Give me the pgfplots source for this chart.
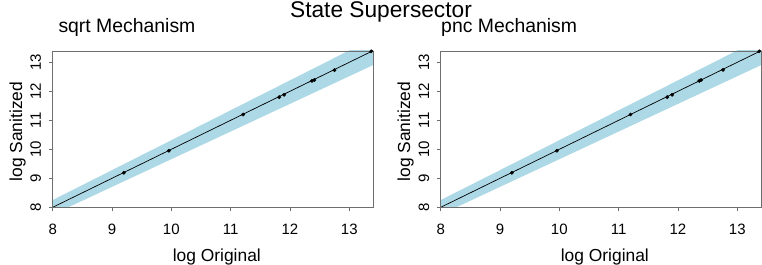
\documentclass[border=0pt]{standalone}
\usepackage{fontspec}
\setmainfont{Liberation Sans}
\usepackage{pgfplots}
\pgfplotsset{compat=1.18}
\definecolor{band}{RGB}{173,216,230}
\definecolor{frame}{RGB}{110,110,110}
\pgfplotsset{
  myax/.style={
    scale only axis, width=320.3bp, height=156.3bp,
    anchor=south west,
    xmin=8, xmax=13.4, ymin=8, ymax=13.39,
    xtick={8,9,10,11,12,13}, ytick={8,9,10,11,12,13},
    tick align=outside, major tick length=4bp,
    axis line style={draw=frame, line width=0.8bp},
    every tick/.style={draw=frame, line width=0.8bp},
    tick pos=left,
    axis on top,
    /pgf/number format/assume math mode=true,
    ticklabel style={font=\fontsize{15bp}{17bp}\selectfont},
    xticklabel style={yshift=-22.7bp, anchor=base, inner sep=0pt},
    yticklabel style={xshift=-7.7bp, rotate=90, anchor=base, inner sep=0pt},
    label style={font=\fontsize{17.4bp}{20bp}\selectfont},
    xlabel={log Original},
    ylabel={log Sanitized},
    xlabel style={at={(axis description cs:0.5125,-0.348)}, anchor=base, inner sep=0pt},
    ylabel style={at={(axis description cs:-0.0958,0.484)}, anchor=base, rotate=0, inner sep=0pt},
    title style={font=\fontsize{19.4bp}{22bp}\selectfont, anchor=base west, inner sep=0pt},
  },
}
\begin{document}
\begin{tikzpicture}
\path[use as bounding box] (0,0) rectangle (762bp,265bp);
\node[anchor=base, inner sep=0pt, font=\fontsize{22.7bp}{26bp}\selectfont] at (381bp,247bp) {State Supersector};
\begin{axis}[myax, at={(52.7bp,57.7bp)},
  title={sqrt Mechanism}, title style={at={(axis description cs:0.0175,1.0813)}}]
\addplot[draw=none, fill=band] coordinates {(7.5,7.734) (14,14.442) (14,13.474) (7.5,7.273)} -- cycle;
\addplot[black, line width=0.7bp] coordinates {(7.5,7.5) (14,14)};
\addplot[only marks, mark=*, mark size=1.7bp, black] coordinates {
(9.20,9.19) (9.96,9.95) (11.21,11.20) (11.82,11.80) (11.90,11.88)
(12.37,12.36) (12.41,12.39) (12.75,12.73) (13.37,13.38)};
\end{axis}
\begin{axis}[myax, at={(440.7bp,57.7bp)},
  title={pnc Mechanism}, title style={at={(axis description cs:0.001,1.0813)}}]
\addplot[draw=none, fill=band] coordinates {(7.5,7.734) (14,14.442) (14,13.474) (7.5,7.273)} -- cycle;
\addplot[black, line width=0.7bp] coordinates {(7.5,7.5) (14,14)};
\addplot[only marks, mark=*, mark size=1.7bp, black] coordinates {
(9.20,9.19) (9.96,9.95) (11.20,11.20) (11.82,11.80) (11.90,11.88)
(12.36,12.36) (12.39,12.39) (12.76,12.74) (13.37,13.38)};
\end{axis}
\end{tikzpicture}
\end{document}
